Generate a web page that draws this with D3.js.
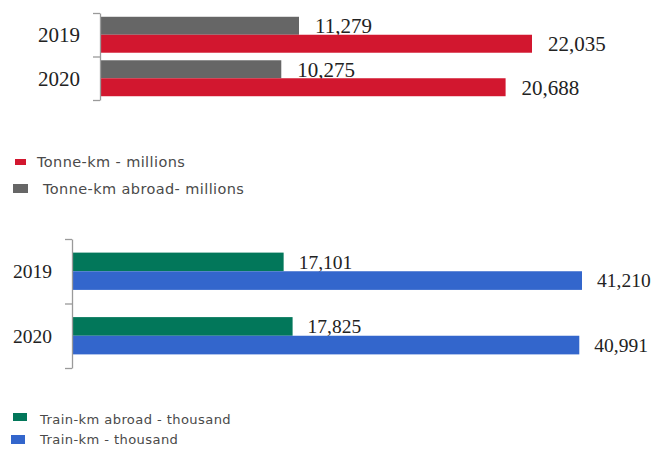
<!DOCTYPE html>
<html>
<head>
<meta charset="utf-8">
<script src="https://cdn.jsdelivr.net/npm/d3@7"></script>
<style>
  body { margin: 0; background: #fff; }
  svg { display: block; }
</style>
</head>
<body>
<svg id="chart" width="653" height="454"></svg>
<script>
const svg = d3.select('#chart');

// data
const years = ['2019', '2020'];
const tonneKm = [22035, 20688];          // millions
const tonneKmAbroad = [11279, 10275];    // millions
const trainKm = [41210, 40991];          // thousand
const trainKmAbroad = [17101, 17825];    // thousand

const topLegend = ['Tonne-km - millions', 'Tonne-km abroad- millions'];
const bottomLegend = ['Train-km abroad - thousand', 'Train-km - thousand'];

const colors = {
  red: '#d2172f',
  gray: '#666666',
  green: '#02775a',
  blue: '#3366cc'
};

const fmt = d3.format(',');

//draws one little grouped bar panel
const barPanel = (selection, props) => {
  const {
    axisX, top, bottom, series, fontSize, padOuter, labelGap
  } = props;

  const yScale = d3.scaleBand()
    .domain(years)
    .range([top, bottom]);

  const inner = d3.scaleBand()
    .domain(series.map(s => s.key))
    .range([0, yScale.bandwidth()])
    .paddingOuter(padOuter);

  // ticks sit on band edges, not centres
  const edgeScale = d3.scaleLinear().domain([0, years.length]).range([top, bottom]);
  const axis = d3.axisLeft(edgeScale)
    .tickValues(d3.range(years.length + 1))
    .tickFormat('')
    .tickSize(7)
    .tickSizeOuter(0);

  const g = selection.append('g');

  series.forEach(s => {
    g.selectAll('.bar-' + s.key)
      .data(s.values)
      .enter().append('rect')
        .attr('x', axisX)
        .attr('y', (d, i) => yScale(years[i]) + inner(s.key))
        .attr('width', d => s.x(d) - axisX)
        .attr('height', inner.bandwidth())
        .attr('fill', s.color);

    g.selectAll('.lbl-' + s.key)
      .data(s.values)
      .enter().append('text')
        .attr('x', d => s.x(d) + labelGap)
        .attr('y', (d, i) => yScale(years[i]) + inner(s.key) + inner.bandwidth() / 2)
        .attr('dy', '0.35em')
        .attr('font-family', '"Liberation Serif", "DejaVu Serif", serif')
        .attr('font-size', fontSize)
        .attr('fill', '#222')
        .text(d => fmt(d));
  });

  const ax = g.append('g')
    .attr('transform', `translate(${axisX},0)`)
    .call(axis);
  ax.select('.domain').attr('stroke', '#9a9a9a').attr('stroke-width', 1.3);
  ax.selectAll('.tick line').attr('stroke', '#9a9a9a').attr('stroke-width', 1.3);

  g.selectAll('.year')
    .data(years)
    .enter().append('text')
      .attr('x', axisX - 20)
      .attr('y', d => yScale(d) + yScale.bandwidth() / 2)
      .attr('dy', '0.35em')
      .attr('text-anchor', 'end')
      .attr('font-family', '"Liberation Serif", "DejaVu Serif", serif')
      .attr('font-size', fontSize)
      .attr('fill', '#222')
      .text(d => d);
};

//legend rows
const legend = (selection, props) => {
  const { items, fontSize } = props;
  const g = selection.append('g');
  items.forEach(it => {
    g.append('rect')
      .attr('x', it.sx).attr('y', it.sy)
      .attr('width', it.sw).attr('height', it.sh)
      .attr('fill', it.color);
    g.append('text')
      .attr('x', it.tx).attr('y', it.ty)
      .attr('dy', '0.35em')
      .attr('font-family', '"DejaVu Sans", Verdana, sans-serif')
      .attr('font-size', fontSize)
      .attr('letter-spacing', 0.4)
      .attr('fill', '#4a4a4a')
      .text(it.label);
  });
};

// top panel: in the source the abroad bars use a shorter scale than the total bars
const xRed = d3.scaleLinear().domain([0, 22035]).range([100, 532]);
const xGray = d3.scaleLinear().domain([0, 11279]).range([100, 299]);

svg.call(barPanel, {
  axisX: 100, top: 13, bottom: 100, fontSize: 21, padOuter: 0.21, labelGap: 16,
  series: [
    { key: 'abroad', values: tonneKmAbroad, color: colors.gray, x: xGray },
    { key: 'total', values: tonneKm, color: colors.red, x: xRed }
  ]
});

const xTrain = d3.scaleLinear().domain([0, 41210]).range([72, 582]);

svg.call(barPanel, {
  axisX: 72, top: 239, bottom: 368, fontSize: 19.5, padOuter: 0.73, labelGap: 15,
  series: [
    { key: 'abroad', values: trainKmAbroad, color: colors.green, x: xTrain },
    { key: 'total', values: trainKm, color: colors.blue, x: xTrain }
  ]
});

svg.call(legend, {
  fontSize: 14.5,
  items: [
    { label: topLegend[0], color: colors.red, sx: 15, sy: 159, sw: 11, sh: 6, tx: 37, ty: 162 },
    { label: topLegend[1], color: colors.gray, sx: 13, sy: 184, sw: 15, sh: 9, tx: 43, ty: 189 }
  ]
});

svg.call(legend, {
  fontSize: 13.1,
  items: [
    { label: bottomLegend[0], color: colors.green, sx: 13, sy: 413, sw: 14, sh: 8, tx: 40, ty: 419 },
    { label: bottomLegend[1], color: colors.blue, sx: 11, sy: 435, sw: 14, sh: 9, tx: 40, ty: 439 }
  ]
});
</script>
</body>
</html>
